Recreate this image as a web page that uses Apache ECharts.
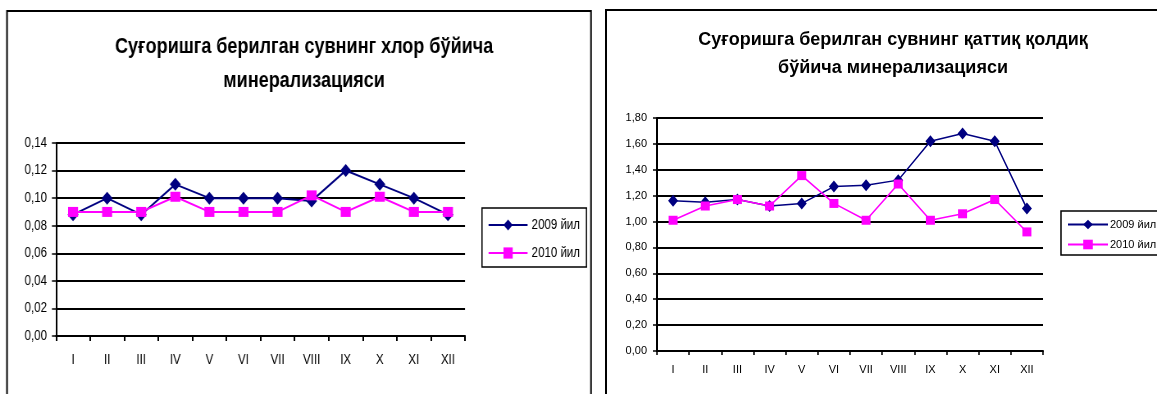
<!DOCTYPE html>
<html>
<head>
<meta charset="utf-8">
<script src="https://cdn.jsdelivr.net/npm/echarts@6/dist/echarts.min.js"></script>
<style>
html,body{margin:0;padding:0;background:#fff;overflow:hidden;}
#wrap{position:relative;width:1157px;height:394px;overflow:hidden;background:#fff;}
#left{position:absolute;left:0;top:0;width:740px;height:394px;transform:scaleX(0.82);transform-origin:0 0;}
#right{position:absolute;left:596px;top:0;width:561px;height:394px;}
</style>
</head>
<body>
<div id="wrap"><div id="left"></div><div id="right"></div></div>
<script>
var months = ['I','II','III','IV','V','VI','VII','VIII','IX','X','XI','XII'];
var seriesNames = ['2009 йил', '2010 йил'];
var titleChlor = 'Суғоришга берилган сувнинг хлор бўйича\nминерализацияси';
var titleResidue = 'Суғоришга берилган сувнинг қаттиқ қолдиқ\nбўйича минерализацияси';
var chlor2009 = [0.088, 0.100, 0.088, 0.110, 0.100, 0.100, 0.100, 0.098, 0.120, 0.110, 0.100, 0.088];
var chlor2010 = [0.090, 0.090, 0.090, 0.101, 0.090, 0.090, 0.090, 0.102, 0.090, 0.101, 0.090, 0.090];
var resid2009 = [1.16, 1.15, 1.17, 1.12, 1.14, 1.27, 1.28, 1.32, 1.62, 1.68, 1.62, 1.10];
var resid2010 = [1.01, 1.12, 1.17, 1.12, 1.355, 1.14, 1.01, 1.29, 1.01, 1.06, 1.17, 0.92];

var arial = '"Liberation Sans",Arial,sans-serif';
var navy = '#000080', magenta = '#FF00FF';
function fmt(v){ return v.toFixed(2).replace('.', ','); }

// Left chart: drawn in a horizontally condensed box (scaleX 0.82), coordinates are pre-scale
var S = 0.82;
function px(v){ return v / S; }

var left = echarts.init(document.getElementById('left'));
left.setOption({
  animation: false,
  backgroundColor: '#fff',
  graphic: [
    {type:'rect', shape:{x:px(7), y:11, width:px(584), height:420}, style:{fill:'none', stroke:'#000', lineWidth:2}, silent:true}
  ],
  title: {text: titleChlor, left: px(300), top: 25, textAlign: 'center',
     textStyle:{fontFamily: arial, fontWeight:'bold', fontSize:22, lineHeight:34, color:'#000'}},
  legend: {data: seriesNames, orient:'vertical', left:px(482), top:208, itemWidth:px(39), itemHeight:14, itemGap:14,
     padding:[10,8,7,7], borderColor:'#000', borderWidth:1.5, backgroundColor:'#fff',
     textStyle:{fontFamily: arial, fontSize:14, color:'#000'}, selectedMode:false},
  grid: {left:px(56), top:143, width:px(409), height:193},
  xAxis: {type:'category', data: months, boundaryGap:true,
     axisLine:{lineStyle:{color:'#000', width:2}},
     axisTick:{show:true, length:5, lineStyle:{color:'#000', width:2}},
     axisLabel:{fontFamily: arial, fontSize:14, color:'#000', margin:17}},
  yAxis: {type:'value', min:0, max:0.14, interval:0.02,
     axisLine:{show:true, lineStyle:{color:'#000', width:2}},
     axisTick:{show:true, length:5, lineStyle:{color:'#000', width:1.5}},
     splitLine:{lineStyle:{color:'#000', width:2}},
     axisLabel:{fontFamily: arial, fontSize:14, color:'#000', margin:11, formatter: fmt}},
  series: [
    {name: seriesNames[0], type:'line', data: chlor2009,
     symbol:'diamond', symbolSize:[px(11),13], lineStyle:{color:navy, width:2}, itemStyle:{color:navy}, z:3},
    {name: seriesNames[1], type:'line', data: chlor2010,
     symbol:'rect', symbolSize:[px(10),10], lineStyle:{color:magenta, width:2}, itemStyle:{color:magenta}, z:4}
  ]
});

// Right chart: its div starts at page x = 596
var OX = 596;
var right = echarts.init(document.getElementById('right'));
right.setOption({
  animation: false,
  backgroundColor: 'rgba(0,0,0,0)',
  graphic: [
    {type:'rect', shape:{x:606-OX, y:10, width:620, height:420}, style:{fill:'none', stroke:'#000', lineWidth:2}, silent:true}
  ],
  title: {text: titleResidue, left: 888-OX, top: 21, textAlign: 'center',
     textStyle:{fontFamily: arial, fontWeight:'bold', fontSize:18, lineHeight:28, color:'#000'}},
  legend: {data: seriesNames, orient:'vertical', left:1061-OX, top:211, itemWidth:40, itemHeight:12, itemGap:9,
     padding:[8,40,5,6], borderColor:'#000', borderWidth:1.5, backgroundColor:'#fff',
     textStyle:{fontFamily: arial, fontSize:11, color:'#000', padding:[0,0,0,-3]}, selectedMode:false},
  grid: {left:657-OX, top:118, width:386, height:233},
  xAxis: {type:'category', data: months, boundaryGap:true,
     axisLine:{lineStyle:{color:'#000', width:2}},
     axisTick:{show:true, length:4, lineStyle:{color:'#000', width:1.5}},
     axisLabel:{fontFamily: arial, fontSize:11, color:'#000', margin:13}},
  yAxis: {type:'value', min:0, max:1.8, interval:0.2,
     axisLine:{show:true, lineStyle:{color:'#000', width:2}},
     axisTick:{show:true, length:4, lineStyle:{color:'#000', width:1.5}},
     splitLine:{lineStyle:{color:'#000', width:2}},
     axisLabel:{fontFamily: arial, fontSize:11, color:'#000', margin:10, formatter: fmt}},
  series: [
    {name: seriesNames[0], type:'line', data: resid2009,
     symbol:'diamond', symbolSize:[10,12], lineStyle:{color:navy, width:1.5}, itemStyle:{color:navy}, z:3},
    {name: seriesNames[1], type:'line', data: resid2010,
     symbol:'rect', symbolSize:9, lineStyle:{color:magenta, width:1.5}, itemStyle:{color:magenta}, z:4}
  ]
});
</script>
</body>
</html>
